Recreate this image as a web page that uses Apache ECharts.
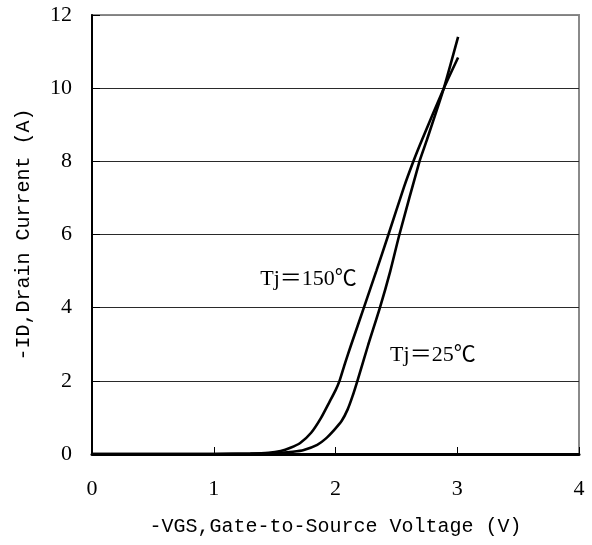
<!DOCTYPE html>
<html>
<head>
<meta charset="utf-8">
<script src="https://cdn.jsdelivr.net/npm/echarts@6/dist/echarts.min.js"></script>
<style>
html,body{margin:0;padding:0;background:#fff;}
#chart{width:592px;height:545px;}
</style>
</head>
<body>
<div id="chart"></div>
<script>
// Tick values
var xTicks = [0, 1, 2, 3, 4];
var yTicks = [0, 2, 4, 6, 8, 10, 12];

// Series names / annotation texts
var seriesNames = ['Tj=150℃', 'Tj=25℃'];
var labelTexts = ['Tj＝150℃', 'Tj＝25℃'];

// -VGS (V), -ID (A) for Tj = 150 °C
var vgs150 = [0, 1.0, 1.3, 1.45, 1.55, 1.63, 1.71, 1.8, 1.88, 1.95, 2.0, 2.033, 2.08, 2.13, 2.233, 2.335, 2.435, 2.563, 2.64, 2.71, 2.89, 3.007];
var id150  = [0, 0,   0.01, 0.03, 0.08, 0.17, 0.3, 0.58, 0.98, 1.42, 1.74, 2.0,  2.5,  3.0,  4.0,   5.0,   6.0,   7.3,   8.0,  8.58, 10.0, 10.84];

// -VGS (V), -ID (A) for Tj = 25 °C
var vgs25 = [0, 1.0, 1.4, 1.55, 1.65, 1.74, 1.85, 1.92, 1.99, 2.05, 2.10, 2.14, 2.18, 2.27, 2.365, 2.45, 2.525, 2.69, 2.75, 2.89, 3.007];
var id25  = [0, 0,   0.01, 0.03, 0.06, 0.11, 0.25, 0.42, 0.66, 0.9,  1.22, 1.58, 2.0,  3.0,  4.0,   5.0,  6.0,   8.0,  8.58, 10.0, 11.4];

function pairs(xs, ys) { return xs.map(function (x, i) { return [x, ys[i]]; }); }

var serifFont = "'Liberation Serif', 'Noto Sans CJK SC', serif";
var monoFont = "'Liberation Mono', 'DejaVu Sans Mono', monospace";

var chart = echarts.init(document.getElementById('chart'), null, {renderer: 'canvas'});

var splitColors = yTicks.map(function (v, i) { return i === yTicks.length - 1 ? '#808080' : '#2a2a2a'; });

chart.setOption({
  animation: false,
  backgroundColor: '#ffffff',
  grid: {
    left: 92, top: 15, width: 487, height: 439,
    show: true, borderColor: '#8a8a8a', borderWidth: 2, backgroundColor: 'transparent'
  },
  xAxis: {
    type: 'value',
    min: xTicks[0], max: xTicks[xTicks.length - 1], interval: 1,
    name: '-VGS,Gate-to-Source Voltage (V)',
    nameLocation: 'middle', nameGap: 63,
    nameTextStyle: {fontFamily: monoFont, fontSize: 20, color: '#000'},
    axisLine: {show: true, onZero: false, lineStyle: {color: '#000', width: 3}},
    axisTick: {show: true, inside: true, length: 7, lineStyle: {color: '#000', width: 1}},
    axisLabel: {margin: 24, fontFamily: serifFont, fontSize: 22, color: '#000'},
    splitLine: {show: false}
  },
  yAxis: {
    type: 'value',
    min: yTicks[0], max: yTicks[yTicks.length - 1], interval: 2,
    name: '-ID,Drain Current (A)',
    nameLocation: 'middle', nameGap: 58, nameRotate: 90,
    nameTextStyle: {fontFamily: monoFont, fontSize: 20, color: '#000'},
    axisLine: {show: true, onZero: false, lineStyle: {color: '#000', width: 2}},
    axisTick: {show: true, inside: true, length: 8, lineStyle: {color: '#000', width: 1}},
    axisLabel: {margin: 20, fontFamily: serifFont, fontSize: 22, color: '#000'},
    splitLine: {show: true, lineStyle: {color: splitColors, width: 1}}
  },
  series: [
    {
      name: seriesNames[0], type: 'line', data: pairs(vgs150, id150),
      showSymbol: false, smooth: 0.2, clip: false,
      lineStyle: {color: '#000', width: 2.6},
      markPoint: {
        symbol: 'circle', symbolSize: 0,
        label: {show: true, position: 'inside', formatter: labelTexts[0],
                fontFamily: serifFont, fontSize: 22, color: '#000'},
        data: [{coord: [1.778, 4.78]}]
      }
    },
    {
      name: seriesNames[1], type: 'line', data: pairs(vgs25, id25),
      showSymbol: false, smooth: 0.2, clip: false,
      lineStyle: {color: '#000', width: 2.6},
      markPoint: {
        symbol: 'circle', symbolSize: 0,
        label: {show: true, position: 'inside', formatter: labelTexts[1],
                fontFamily: serifFont, fontSize: 22, color: '#000'},
        data: [{coord: [2.80, 2.70]}]
      }
    }
  ]
});
</script>
</body>
</html>
